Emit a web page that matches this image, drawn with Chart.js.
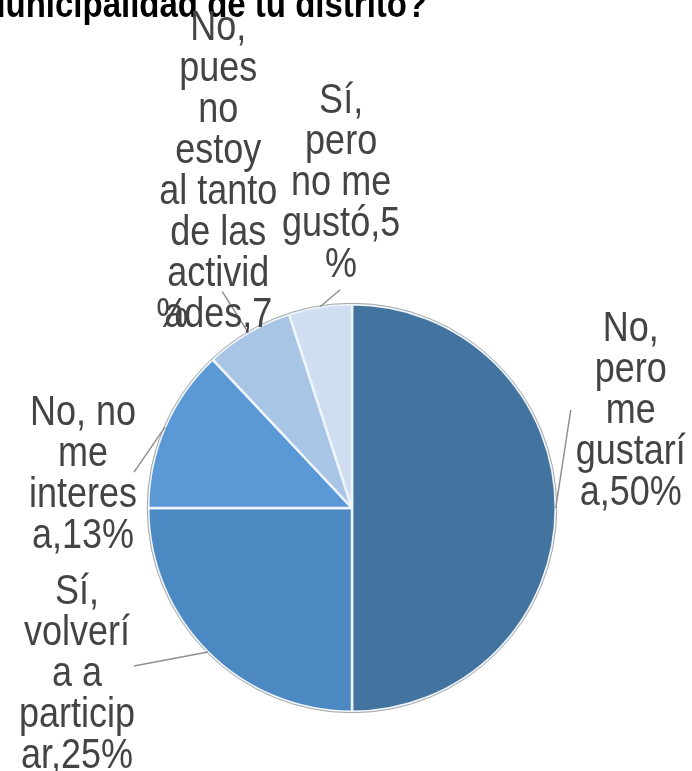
<!DOCTYPE html>
<html>
<head>
<meta charset="utf-8">
<script src="https://cdn.jsdelivr.net/npm/chart.js@4"></script>
<style>
  html, body { margin: 0; padding: 0; background: #fff; overflow: hidden; }
  canvas { display: block; }
</style>
</head>
<body>
<canvas id="grafico" width="692" height="771"></canvas>
<script>
// datos del grafico
const categorias = ['No, pero me gustaría', 'Sí, volvería a participar', 'No, no me interesa', 'No, pues no estoy al tanto de las actividades', 'Sí, pero no me gustó'];
const porcentajes = [50, 25, 13, 7, 5];
const colores = ['#43739f', '#4c89c2', '#5a99d6', '#a9c5e5', '#cfdff1'];

// etiquetas tal como aparecen partidas en la imagen
const lineasEtiqueta = [
  ['No,', 'pero', 'me', 'gustarí', 'a,50%'],
  ['Sí,', 'volverí', 'a a', 'particip', 'ar,25%'],
  ['No, no', 'me', 'interes', 'a,13%'],
  ['No,', 'pues', 'no', 'estoy', 'al tanto', 'de las', 'activid', 'ades,7'],
  ['Sí,', 'pero', 'no me', 'gustó,5', '%']
];
const titulo = 'Municipalidad de tu distrito?';

// desplazamientos respecto al borde del sector: texto y linea guia
const posTexto = [[75, -179], [-131, -60], [-82, -14], [-30, -304], [21, -205]];
const finGuia = [[15, -98], [-74, 14], [-31, 45], [-26, -41], [20, -17]];

const escalaY = 1.18; // el texto del original sale algo estirado en vertical

const etiquetasPlugin = {
  id: 'etiquetas',
  afterDatasetsDraw(chart) {
    const ctx = chart.ctx;
    const arcos = chart.getDatasetMeta(0).data;

    // contorno gris del circulo
    const a0 = arcos[0];
    ctx.save();
    ctx.strokeStyle = '#a6a6a6';
    ctx.lineWidth = 1;
    ctx.beginPath();
    ctx.arc(a0.x, a0.y, a0.outerRadius + 1, 0, Math.PI * 2);
    ctx.stroke();
    ctx.restore();

    // titulo (recortado arriba)
    ctx.save();
    ctx.fillStyle = '#000';
    ctx.font = 'bold 33px "Liberation Sans", Arial, sans-serif';
    ctx.textAlign = 'left';
    ctx.textBaseline = 'alphabetic';
    ctx.setTransform(1, 0, 0, escalaY, 0, 0);
    ctx.fillText(titulo, -22, 17 / escalaY);
    ctx.restore();

    arcos.forEach((arco, i) => {
      const medio = (arco.startAngle + arco.endAngle) / 2;
      const bx = arco.x + Math.cos(medio) * arco.outerRadius;
      const by = arco.y + Math.sin(medio) * arco.outerRadius;

      ctx.save();
      ctx.strokeStyle = '#8f8f8f';
      ctx.lineWidth = 1.5;
      ctx.beginPath();
      ctx.moveTo(bx, by);
      ctx.lineTo(bx + finGuia[i][0], by + finGuia[i][1]);
      ctx.stroke();
      ctx.restore();

      const tx = bx + posTexto[i][0];
      const ty = by + posTexto[i][1];
      ctx.save();
      ctx.fillStyle = '#444444';
      ctx.font = '36px "Liberation Sans", Arial, sans-serif';
      ctx.textAlign = 'center';
      ctx.textBaseline = 'middle';
      ctx.setTransform(1, 0, 0, escalaY, 0, 0);
      lineasEtiqueta[i].forEach((linea, j) => {
        ctx.fillText(linea, tx, (ty + j * 41) / escalaY);
      });
      // el "%" del 7 queda encima de la ultima linea en el original
      if (i === 3) {
        ctx.fillText('%', tx - 46, (ty + 7 * 41) / escalaY);
      }
      ctx.restore();
    });
  }
};

new Chart(document.getElementById('grafico'), {
  type: 'pie',
  data: {
    labels: categorias,
    datasets: [{
      data: porcentajes,
      backgroundColor: colores,
      borderColor: '#edf4fc',
      borderWidth: 2.5
    }]
  },
  options: {
    responsive: false,
    animation: false,
    layout: {
      padding: { left: 147, right: 135, top: 303, bottom: 58 }
    },
    plugins: {
      legend: { display: false },
      tooltip: { enabled: false },
      title: { display: false }
    }
  },
  plugins: [etiquetasPlugin]
});
</script>
</body>
</html>
